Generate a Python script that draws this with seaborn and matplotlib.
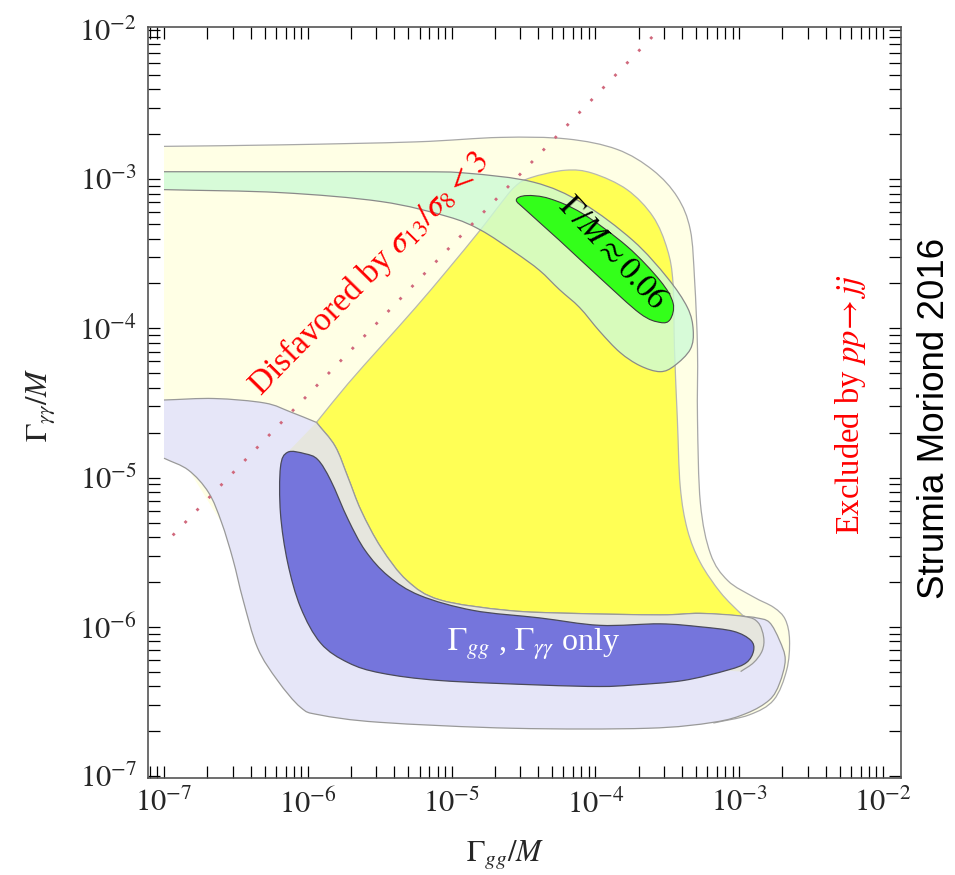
import numpy as np
import matplotlib
matplotlib.use("Agg")
import matplotlib.pyplot as plt
import seaborn as sns
from matplotlib.path import Path
from matplotlib.patches import PathPatch
from matplotlib.ticker import LogLocator, NullFormatter

# ---- region boundaries, as log10(Gamma_gg/M), log10(Gamma_yy/M) ----
# wide allowed region (pale yellow)
wide_x = [-7.00, -6.19, -5.25, -4.66, -4.20, -3.85, -3.60, -3.43, -3.34, -3.31, -3.29, -3.29,
          -3.27, -3.20, -3.08, -2.90, -2.76, -2.68, -2.65, -2.67, -2.76, -2.93, -3.18,
          -3.97, -6.05, -7.00]
wide_y = [-2.78, -2.77, -2.75, -2.72, -2.73, -2.80, -2.94, -3.12, -3.34, -3.68, -4.14, -4.61,
          -5.17, -5.51, -5.69, -5.80, -5.87, -5.95, -6.09, -6.29, -6.49, -6.59, -6.645,
          -6.49, -6.16, -4.68]

# core allowed region (yellow)
core_x = [-5.94, -5.72, -5.49, -5.25, -5.03, -4.80, -4.68, -4.56, -4.45, -4.21, -4.02, -3.78,
          -3.60, -3.50, -3.46, -3.45, -3.43, -3.41, -3.36, -3.27, -3.13, -2.99, -2.96,
          -3.97, -5.36, -5.85]
core_y = [-4.63, -4.37, -4.12, -3.86, -3.61, -3.34, -3.19, -3.05, -2.99, -2.94, -2.96, -3.07,
          -3.25, -3.47, -3.70, -4.14, -4.61, -5.06, -5.35, -5.57, -5.77, -5.91, -5.93,
          -6.09, -5.95, -4.95]

# large-width band (light green)
band_x = [-7.00, -6.19, -5.25, -4.89, -4.43, -4.09, -3.74, -3.50, -3.36, -3.32, -3.34, -3.45,
          -3.55, -3.69, -3.83, -3.97, -4.11, -4.25, -4.39, -4.56, -4.80, -5.03, -5.49, -6.19, -7.00]
band_y = [-2.95, -2.95, -2.95, -2.96, -3.02, -3.16, -3.41, -3.66, -3.86, -4.01, -4.14, -4.25,
          -4.29, -4.25, -4.16, -4.02, -3.86, -3.74, -3.61, -3.49, -3.34, -3.25, -3.15, -3.09, -3.07]

# Gamma/M ~ 0.06 island (green)
width_x = [-4.55, -4.48, -4.32, -4.09, -3.78, -3.55, -3.46, -3.48, -3.55, -3.69, -3.97, -4.25, -4.48]
width_y = [-3.14, -3.11, -3.13, -3.23, -3.45, -3.68, -3.83, -3.94, -3.96, -3.90, -3.66, -3.41, -3.21]

# gg, yy only: outer region (lavender)
only_wide_x = [-7.00, -6.65, -6.30, -6.12, -5.94, -5.81, -5.72, -5.63, -5.49, -5.31, -5.08, -4.61,
               -4.16, -3.55, -3.27, -2.97, -2.88, -2.79, -2.72, -2.68, -2.72, -2.79, -2.95, -3.18,
               -3.64, -4.57, -5.50, -5.92, -6.05, -6.21, -6.35, -6.45, -6.52, -6.60, -6.69, -6.83, -7.00]
only_wide_y = [-4.48, -4.47, -4.50, -4.56, -4.63, -4.79, -5.00, -5.22, -5.47, -5.69, -5.82, -5.89,
               -5.91, -5.92, -5.91, -5.93, -5.94, -5.97, -6.09, -6.22, -6.38, -6.49, -6.58, -6.64,
               -6.68, -6.68, -6.64, -6.59, -6.54, -6.36, -6.14, -5.82, -5.55, -5.30, -5.10, -4.95, -4.87]

# overlap of the two families (grey)
overlap_x = [-6.14, -5.94, -5.81, -5.72, -5.63, -5.49, -5.31, -5.08, -4.61, -4.16, -3.55, -3.27,
             -2.97, -2.87, -2.83, -2.84, -2.90, -2.99, -3.27, -4.66, -5.85, -6.12]
overlap_y = [-4.83, -4.63, -4.79, -5.00, -5.22, -5.47, -5.69, -5.82, -5.89, -5.91, -5.92, -5.91,
             -5.93, -5.97, -6.07, -6.16, -6.24, -6.30, -6.28, -6.16, -5.55, -4.95]

# gg, yy only: inner region (blue)
only_core_x = [-6.19, -6.14, -6.02, -5.93, -5.84, -5.72, -5.60, -5.44, -5.22, -4.85, -4.39, -3.97,
               -3.55, -3.27, -3.04, -2.92, -2.90, -2.95, -3.08, -3.39, -3.74, -3.97, -4.39, -5.08,
               -5.49, -5.72, -5.91, -6.05, -6.14, -6.19]
only_core_y = [-4.93, -4.83, -4.84, -4.88, -5.02, -5.28, -5.49, -5.66, -5.79, -5.89, -5.94, -5.99,
               -5.98, -6.00, -6.03, -6.09, -6.16, -6.24, -6.29, -6.36, -6.39, -6.40, -6.39, -6.36,
               -6.31, -6.24, -6.11, -5.87, -5.57, -5.24]

# sigma_13/sigma_8 = 3 line
ratio_gg = [1.15e-7, 2.9e-4]
ratio_yy = [4.1e-6, 1.05e-2]

tick_exps = [-7, -6, -5, -4, -3, -2]
tick_labels = [rf"$10^{{{e}}}$" for e in tick_exps]


def bezier(lx, ly, corners=(), closed=True):
    P = np.column_stack([lx, ly]).astype(float)
    n = len(P)
    tin = np.zeros_like(P)
    tout = np.zeros_like(P)
    for i in range(n):
        prev = P[i - 1] if (closed or i > 0) else None
        nxt = P[(i + 1) % n] if (closed or i < n - 1) else None
        if prev is None:
            tin[i] = tout[i] = nxt - P[i]
        elif nxt is None:
            tin[i] = tout[i] = P[i] - prev
        elif i in corners:
            tin[i] = P[i] - prev
            tout[i] = nxt - P[i]
        else:
            tin[i] = tout[i] = (nxt - prev) / 2
    segs = []
    for i in range(n if closed else n - 1):
        j = (i + 1) % n
        segs.append((P[i], P[i] + tout[i] / 3, P[j] - tin[j] / 3, P[j]))
    return segs


def make_path(segs, idx, close=False):
    idx = list(idx)
    verts = [segs[idx[0]][0]]
    codes = [Path.MOVETO]
    for k in idx:
        verts.extend(segs[k][1:])
        codes.extend([Path.CURVE4] * 3)
    if close:
        verts.append(verts[0])
        codes.append(Path.CLOSEPOLY)
    return Path(10.0 ** np.array(verts), codes)


def region(ax, lx, ly, face, edge=None, outline=None, corners=(), lw=0.9, z=1, alpha=1.0):
    segs = bezier(lx, ly, corners)
    ax.add_patch(PathPatch(make_path(segs, range(len(segs)), True), facecolor=face,
                           edgecolor="none", alpha=alpha, zorder=z))
    if outline is not None:
        ax.add_patch(PathPatch(make_path(segs, outline), facecolor="none", edgecolor=edge,
                               lw=lw, zorder=z + 0.5))


sns.set_theme(style="ticks")
plt.rcParams["font.family"] = ["Liberation Serif", "DejaVu Serif"]
plt.rcParams["mathtext.fontset"] = "stix"

fig = plt.figure(figsize=(9.55, 8.75), dpi=100)
ax = fig.add_axes([148 / 955, 1 - 778 / 875, 753 / 955, 751 / 875])
ax.set_xscale("log")
ax.set_yscale("log")

region(ax, wide_x, wide_y, "#FFFFE5", "#A8A8A8", range(0, 22), corners=(0, 22, 23, 24, 25), z=1)
region(ax, core_x, core_y, "#FFFF55", "#B8B8B0", range(0, 22), corners=(0, 22, 23, 24, 25), z=2)
region(ax, only_wide_x, only_wide_y, "#E6E6F8", "#999999", range(0, 36), corners=(0, 4, 36), z=3)
region(ax, overlap_x, overlap_y, "#E6E6DE", "#9A9A9A", range(1, 17),
       corners=(0, 1, 17, 18, 19, 20, 21), z=4)
region(ax, only_core_x, only_core_y, "#7575DC", "#4A4A5A", range(0, 30), z=5)
region(ax, band_x, band_y, "#CEFBD5", "#8A8A8A", range(0, 24), corners=(0, 24), z=6, alpha=0.8)
region(ax, width_x, width_y, "#33FF1A", "#3A3A3A", range(0, 13), z=7, lw=0.8)

sns.lineplot(x=ratio_gg, y=ratio_yy, ax=ax, color="#D0687C", lw=2.0,
             linestyle=(0, (1, 5.2)), zorder=8)

for axis in (ax.xaxis, ax.yaxis):
    axis.set_minor_locator(LogLocator(base=10, subs=np.arange(2, 10), numticks=100))
    axis.set_minor_formatter(NullFormatter())
ax.set_xticks([10.0 ** e for e in tick_exps])
ax.set_xticklabels(tick_labels)
ax.set_yticks([10.0 ** e for e in tick_exps])
ax.set_yticklabels(tick_labels)
ax.set_xlim(7.74e-8, 1.334e-2)
ax.set_ylim(9.7e-8, 1.047e-2)
ax.tick_params(which="both", direction="in", top=True, right=True, length=8.5, width=0.9,
               color="black", labelsize=22, pad=8)
for sp in ax.spines.values():
    sp.set_color("#555555")
    sp.set_linewidth(1.2)

ax.set_xlabel(r"$\Gamma_{gg}/M$", fontsize=22)
ax.xaxis.set_label_coords(0.474, -0.1025)
ax.xaxis.label.set_verticalalignment("center")
ax.set_ylabel(r"$\Gamma_{\gamma\gamma}/M$", fontsize=22)
ax.yaxis.set_label_coords(-0.1434, 0.4967)
ax.yaxis.label.set_verticalalignment("center")

ax.text(2.67e-6, 2.35e-4, r"Disfavored by $\sigma_{13}/\sigma_8 < 3$", color="red", fontsize=24,
        rotation=45.5, rotation_mode="anchor", ha="center", va="center", zorder=9)
ax.text(1.3e-4, 3.15e-4, r"$\Gamma/M \approx 0.06$", color="black", fontsize=23,
        rotation=-47, rotation_mode="anchor", ha="center", va="center", zorder=9)
ax.text(3.7e-5, 7.6e-7, r"$\Gamma_{gg}$ , $\Gamma_{\gamma\gamma}$ only", color="white",
        fontsize=23, ha="center", va="center", zorder=9)
ax.text(5.9e-3, 3.1e-5, r"Excluded by $pp\!\rightarrow jj$", color="red", fontsize=23.5,
        rotation=90, ha="center", va="center", zorder=9)

fig.text(0.979, 0.522, "Strumia Moriond 2016", family=["Liberation Sans", "DejaVu Sans"],
         fontsize=26.5, rotation=90, ha="center", va="center", color="black")

fig.savefig("out.png", dpi=100)
